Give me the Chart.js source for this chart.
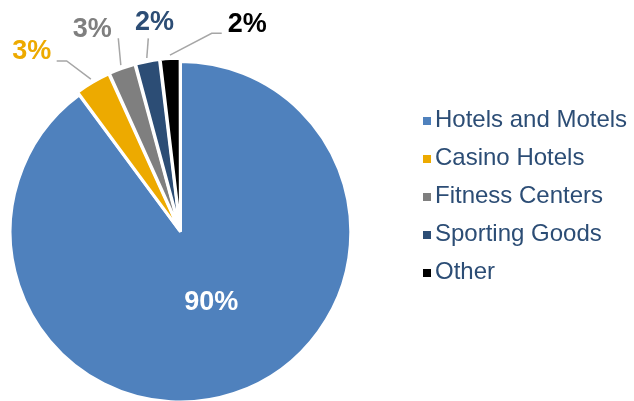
<!DOCTYPE html>
<html><head><meta charset="utf-8">
<script src="https://cdn.jsdelivr.net/npm/chart.js@4/dist/chart.umd.min.js"></script>
<style>html,body{margin:0;padding:0;background:#fff;overflow:hidden}canvas{display:block}</style>
</head><body>
<canvas id="c" width="634" height="401"></canvas>
<script>
// ---- data ----
const categories = ['Hotels and Motels', 'Casino Hotels', 'Fitness Centers', 'Sporting Goods', 'Other'];
const shares = [89.85, 3.4, 2.55, 2.3, 1.9];

// ---- styles ----
const sliceColors = ['#4F81BD', '#EDAA00', '#7F7F7F', '#2C4D75', '#000000'];
const labelColors = ['#FFFFFF', '#EDAA00', '#7F7F7F', '#2C4D75', '#000000'];
const legendTextColor = '#2C4D75';
const leaderColor = '#A6A6A6';
// label placement relative to an anchor on each slice's mid-angle
const labelPlacement = [
  { inside: true, r: 0.45, dx: 6.8, dy: -2.4 },
  { r: 6.7, dx: -59.2, dy: -27.5, leader: [[-24.2, -18.2], [-34.2, -18.2]] },
  { r: 6.7, dx: -28.6, dy: -35.5, leader: [[-2.5, -26.9]] },
  { r: 6.7, dx: 7.7, dy: -35.5, leader: [[1.5, -19.7]] },
  { r: 6.7, dx: 77.4, dy: -30.4, leader: [[41.8, -21.8], [51.8, -21.8]] }
];

// legend marker: 8px square placed at the right end of a 64px-wide transparent image
function squareMarker(color) {
  const c = document.createElement('canvas');
  c.width = 64; c.height = 8;
  const g = c.getContext('2d');
  g.fillStyle = color;
  g.fillRect(56, 0, 8, 8);
  return c;
}
const markers = sliceColors.map(squareMarker);

const pctLabels = {
  id: 'pctLabels',
  afterDatasetsDraw(chart) {
    const ctx = chart.ctx;
    const meta = chart.getDatasetMeta(0);
    const total = shares.reduce((a, b) => a + b, 0);
    ctx.save();
    meta.data.forEach((arc, i) => {
      const p = arc.getProps(['x', 'y', 'startAngle', 'endAngle', 'outerRadius'], true);
      const mid = (p.startAngle + p.endAngle) / 2;
      const pl = labelPlacement[i];
      const rr = pl.inside ? p.outerRadius * pl.r : p.outerRadius + pl.r;
      const ax = p.x + Math.cos(mid) * rr;
      const ay = p.y + Math.sin(mid) * rr;
      if (pl.leader) {
        ctx.beginPath();
        ctx.moveTo(ax, ay);
        pl.leader.forEach(([dx, dy]) => ctx.lineTo(ax + dx, ay + dy));
        ctx.strokeStyle = leaderColor;
        ctx.lineWidth = 1.5;
        ctx.stroke();
      }
      ctx.font = 'bold 27px "Liberation Sans", Arial, sans-serif';
      ctx.fillStyle = labelColors[i];
      ctx.textAlign = 'center';
      ctx.textBaseline = 'middle';
      ctx.fillText(Math.round(shares[i] / total * 100) + '%', ax + pl.dx, ay + pl.dy);
    });
    ctx.restore();
  }
};

new Chart(document.getElementById('c'), {
  type: 'pie',
  data: {
    labels: categories,
    datasets: [{
      data: shares,
      backgroundColor: sliceColors,
      borderColor: '#FFFFFF',
      borderWidth: 3,
      offset: [0, 7, 7, 7, 7],
      radius: 170.3,
      clip: false
    }]
  },
  options: {
    responsive: false,
    animation: false,
    events: [],
    layout: { padding: { left: 0, right: 0, top: 94.5, bottom: 31.9 } },
    plugins: {
      tooltip: { enabled: false },
      legend: {
        position: 'right',
        align: 'start',
        maxWidth: 273,
        labels: {
          padding: 14,
          boxWidth: 48,
          pointStyleWidth: 48,
          usePointStyle: true,
          textAlign: 'left',
          color: legendTextColor,
          font: { family: '"Liberation Sans", Arial, sans-serif', size: 24 },
          generateLabels: () => categories.map((t, i) => ({
            text: t,
            fillStyle: sliceColors[i],
            strokeStyle: 'rgba(0,0,0,0)',
            lineWidth: 0,
            pointStyle: markers[i],
            fontColor: legendTextColor,
            hidden: false,
            index: i,
            textAlign: 'left'
          }))
        }
      }
    }
  },
  plugins: [pctLabels]
});
</script>
</body></html>
